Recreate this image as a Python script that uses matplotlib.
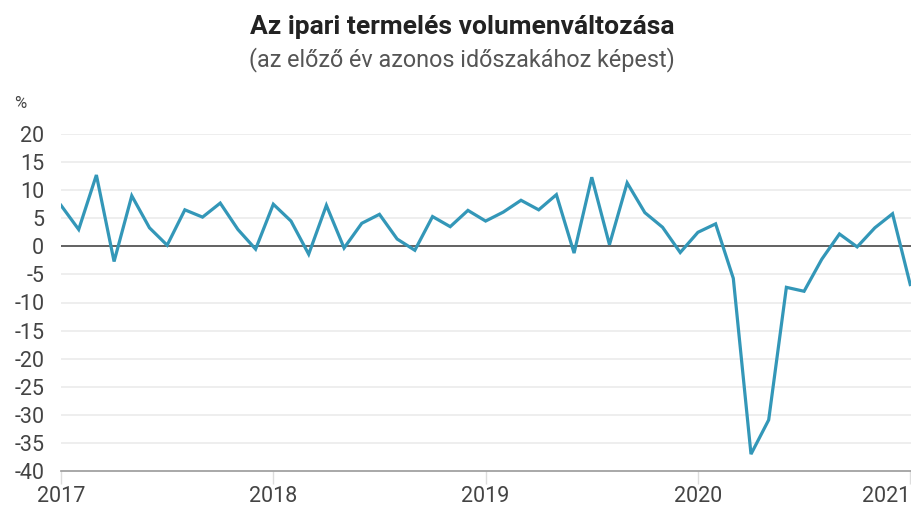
import matplotlib
matplotlib.use("Agg")
import matplotlib.pyplot as plt

# havi adatok 2017 jan - 2021 jan, előző év azonos időszakához képest (%)
months = list(range(49))
values = [7.3, 3.0, 12.7, -2.7, 9.0, 3.3, 0.2, 6.5, 5.2, 7.7, 3.0, -0.5,
          7.5, 4.5, -1.4, 7.3, -0.3, 4.1, 5.7, 1.3, -0.7, 5.3, 3.5, 6.4,
          4.5, 6.1, 8.2, 6.5, 9.2, -1.2, 12.3, 0.3, 11.3, 6.0, 3.4, -1.1,
          2.5, 4.0, -5.7, -37.0, -30.9, -7.3, -8.0, -2.3, 2.2, -0.1, 3.3, 5.8,
          -6.8]
year_ticks = [0, 12, 24, 36, 48]
year_labels = ["2017", "2018", "2019", "2020", "2021"]
y_ticks = list(range(-40, 25, 5))

plt.rcParams['font.family'] = ['Roboto', 'DejaVu Sans']

fig = plt.figure(figsize=(9.12, 5.08), dpi=100)
ax = fig.add_axes([61 / 912, 37 / 508, 851 / 912, 337 / 508])

for y in y_ticks[1:]:
    if y != 0:
        ax.axhline(y, color='#ebebeb', lw=1.2, zorder=0)
ax.axhline(0, color='#555555', lw=1.3, zorder=1)

ax.plot(months, values, color='#3397b8', lw=2.3, zorder=3,
        solid_joinstyle='miter')

ax.set_xlim(0, 48.1)
ax.set_ylim(-40, 20)
ax.set_yticks(y_ticks)
ax.set_yticklabels([str(v) for v in y_ticks])
ax.set_xticks(year_ticks)
ax.set_xticklabels(year_labels)
ax.get_xticklabels()[-1].set_horizontalalignment('right')

for s in ['top', 'right', 'left']:
    ax.spines[s].set_visible(False)
ax.spines['bottom'].set_color('#999999')
ax.spines['bottom'].set_linewidth(1.2)

ax.tick_params(axis='y', length=0, pad=12, labelsize=15.5, labelcolor='#444444')
ax.tick_params(axis='x', length=9, width=1, color='#dddddd', pad=2,
               labelsize=15.5, labelcolor='#444444')

fig.text(20 / 912, 1 - 103 / 508, "%", ha='center', va='center',
         fontsize=12, color='#444444')
fig.text(462 / 912, 1 - 34 / 508, "Az ipari termelés volumenváltozása",
         ha='center', va='baseline', fontsize=19, fontweight='bold', color='#222222')
fig.text(462 / 912, 1 - 66 / 508, "(az előző év azonos időszakához képest)",
         ha='center', va='baseline', fontsize=16.8, color='#555555')

fig.savefig("out.png", dpi=100)
